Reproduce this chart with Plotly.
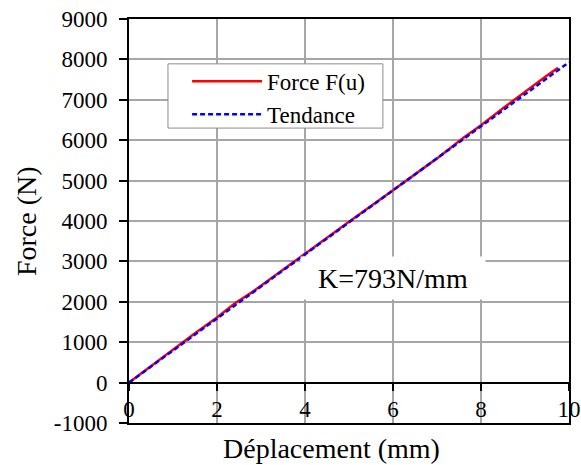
import plotly.graph_objects as go

# Data
u_force = [0, 0.5, 1.0, 1.5, 2.0, 2.4, 2.8, 3.5, 4.0, 5.0, 6.0, 7.0, 7.6, 8.0, 8.5, 9.0, 9.5, 9.75]
F_force = [0, 410, 820, 1220, 1610, 1960, 2240, 2800, 3190, 3980, 4760, 5550, 6060, 6370, 6790, 7200, 7600, 7790]
K = 793
u_trend = [0, 10]
F_trend = [K * u for u in u_trend]

y_ticks = [-1000, 0, 1000, 2000, 3000, 4000, 5000, 6000, 7000, 8000, 9000]
y_ticktext = ["-1000", "0", "1000", "2000", "3000", "4000", "5000", "6000", "7000", "8000", "9000"]
x_ticks = [0, 2, 4, 6, 8, 10]
x_ticktext = ["0", "2", "4", "6", "8", "10"]

FONT = "Liberation Serif"

fig = go.Figure()
fig.add_trace(go.Scatter(x=u_force, y=F_force, mode="lines", name="Force F(u)",
                         line=dict(color="#ff0000", width=2.5)))
fig.add_trace(go.Scatter(x=u_trend, y=F_trend, mode="lines", name="Tendance",
                         line=dict(color="#0000ff", width=2.5, dash="5px,3px")))
# helper trace for the axis line at y=0
fig.add_trace(go.Scatter(x=[None], y=[None], xaxis="x2", showlegend=False, hoverinfo="skip"))

fig.update_layout(
    template="none",
    width=581, height=465,
    margin=dict(l=129, r=12, t=19, b=42, autoexpand=False),
    paper_bgcolor="white", plot_bgcolor="white",
    font=dict(family=FONT, size=23, color="black"),
    showlegend=True,
    legend=dict(x=0.132, y=0.899, xanchor="left", yanchor="top",
                bgcolor="rgba(0,0,0,0)", borderwidth=0, itemwidth=70,
                font=dict(family=FONT, size=23, color="black"), tracegroupgap=0),
    xaxis=dict(range=[0, 10], tickvals=x_ticks, ticktext=x_ticktext, automargin=False,
               showgrid=True, gridcolor="#a6a6a6", gridwidth=1.5,
               zeroline=False, showline=True, linecolor="black", linewidth=2, mirror=True,
               ticks="", ticklabelstandoff=-36, ticklabeloverflow="allow",
               tickfont=dict(family=FONT, size=23, color="black")),
    xaxis2=dict(range=[0, 10], overlaying="x", anchor="free", position=0.1, side="bottom",
                automargin=False,
                tickvals=x_ticks, showticklabels=False, ticks="outside", ticklen=7,
                tickwidth=2, tickcolor="black", showgrid=False, zeroline=False,
                showline=True, linecolor="black", linewidth=2),
    yaxis=dict(range=[-1000, 9000], tickvals=y_ticks, ticktext=y_ticktext, automargin=False,
               showgrid=True, gridcolor="#a6a6a6", gridwidth=1.5,
               zeroline=False, showline=True, linecolor="black", linewidth=2, mirror=True,
               ticks="outside", ticklen=8, tickwidth=2, tickcolor="black",
               ticklabelstandoff=7, ticklabeloverflow="allow",
               tickfont=dict(family=FONT, size=23, color="black")),
)

# legend frame
fig.add_shape(type="rect", xref="paper", yref="paper", x0=0.0886, x1=0.577, y0=0.730, y1=0.889,
              fillcolor="white", line=dict(color="#8c8c8c", width=1), layer="above")

fig.add_annotation(x=0.46, y=-0.062, xref="paper", yref="paper", text="Déplacement (mm)",
                   showarrow=False, font=dict(family=FONT, size=28), xanchor="center", yanchor="middle")
fig.add_annotation(x=-0.234, y=0.5, xref="paper", yref="paper", text="Force (N)", textangle=-90,
                   showarrow=False, font=dict(family=FONT, size=28), xanchor="center", yanchor="middle")
fig.add_annotation(x=6.0, y=2600, xref="x", yref="y", text="K=793N/mm",
                   showarrow=False, font=dict(family=FONT, size=28), bgcolor="white",
                   width=182, height=40, xanchor="center", yanchor="middle")

fig.write_html("out.html", config={"displayModeBar": False},
               post_script="document.body.style.margin='0';")
